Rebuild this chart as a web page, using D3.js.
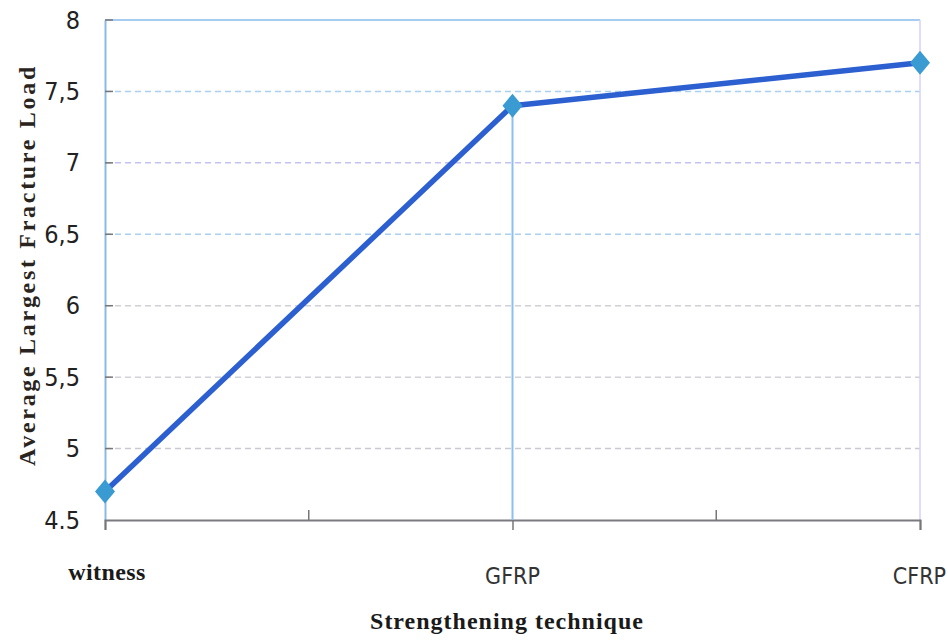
<!DOCTYPE html>
<html>
<head>
<meta charset="utf-8">
<script src="https://cdn.jsdelivr.net/npm/d3@7"></script>
<style>
  html, body { margin: 0; padding: 0; background: #fff; }
  svg { display: block; }
</style>
</head>
<body>
<svg id="chart" width="948" height="641"></svg>
<script>
// Strengthening techniques and their average largest fracture load
const categories = ["witness", "GFRP", "CFRP"];
const loads = [4.7, 7.4, 7.7];
const yTicks = [4.5, 5, 5.5, 6, 6.5, 7, 7.5, 8];
const yTickLabels = ["4.5", "5", "5,5", "6", "6,5", "7", "7,5", "8"];
const gridColors = { 5: "#c9c9d4", 5.5: "#d2d2da", 6: "#d0d0d8", 6.5: "#a9d0f0", 7: "#c3c3f2", 7.5: "#a9d0f0", 8: "#a9cff0" };

const narrow = "'DejaVu Sans Condensed', 'Liberation Sans Narrow', 'Open Sans', sans-serif";
const serif = "'Liberation Serif', 'DejaVu Serif', serif";

const svg = d3.select("#chart");
const margin = { left: 105, right: 28, top: 20, bottom: 121 };
const W = 948, H = 641;
const x0 = margin.left, x1 = W - margin.right;
const y0 = H - margin.bottom, y1 = margin.top;

const x = d3.scalePoint().domain(categories).range([x0, x1]);
const y = d3.scaleLinear().domain([4.5, 8]).range([y0, y1]);

// dashed horizontal gridlines
svg.append("g").selectAll("line")
  .data(yTicks.filter(t => t > 4.5 && t < 8))
  .join("line")
  .attr("x1", x0).attr("x2", x1)
  .attr("y1", d => y(d)).attr("y2", d => y(d))
  .attr("stroke", d => gridColors[d])
  .attr("stroke-width", 1.5)
  .attr("stroke-dasharray", "6,4");

// frame: top and right borders
svg.append("line").attr("x1", x0).attr("x2", x1).attr("y1", y1).attr("y2", y1)
  .attr("stroke", "#a6ccf2").attr("stroke-width", 2);
svg.append("line").attr("x1", x1).attr("x2", x1).attr("y1", y1).attr("y2", y0)
  .attr("stroke", "#d4d2fa").attr("stroke-width", 1.5);

// y axis
const yAxis = d3.axisLeft(y).tickValues(yTicks)
  .tickFormat((d, i) => yTickLabels[i]).tickSize(0).tickPadding(25);
const gy = svg.append("g").attr("transform", `translate(${x0},0)`).call(yAxis);
gy.select(".domain").attr("stroke", "#8cb9e6").attr("stroke-width", 2);
gy.selectAll("text")
  .attr("font-family", narrow)
  .attr("font-size", 25).attr("fill", "#222");
// inner tick marks on the y axis
svg.append("g").selectAll("line").data(yTicks.filter(t => t > 4.5))
  .join("line")
  .attr("x1", x0).attr("x2", x0 + 8)
  .attr("y1", d => y(d)).attr("y2", d => y(d))
  .attr("stroke", "#777").attr("stroke-width", 1.5);

// x axis
const xAxis = d3.axisBottom(x).tickSize(10).tickFormat("");
const gx = svg.append("g").attr("transform", `translate(0,${y0})`).call(xAxis);
gx.select(".domain").attr("stroke", "#7a7a80").attr("stroke-width", 2);
gx.selectAll(".tick line").attr("stroke", "#777").attr("stroke-width", 1.5);
// minor upward ticks between categories
const mids = d3.pairs(categories).map(([a, b]) => (x(a) + x(b)) / 2);
svg.append("g").selectAll("line").data(mids).join("line")
  .attr("x1", d => d).attr("x2", d => d)
  .attr("y1", y0).attr("y2", y0 - 10)
  .attr("stroke", "#777").attr("stroke-width", 1.5);

// category labels
svg.append("g").selectAll("text").data(categories).join("text")
  .attr("x", d => d === "CFRP" ? W - 2 : x(d) + (d === "witness" ? 2 : 0))
  .attr("y", d => d === "witness" ? y0 + 60 : y0 + 64)
  .attr("text-anchor", d => d === "CFRP" ? "end" : "middle")
  .attr("font-family", d => d === "witness" ? serif : narrow)
  .attr("font-weight", d => d === "witness" ? "bold" : "normal")
  .attr("font-size", d => d === "witness" ? 24 : 23)
  .attr("letter-spacing", d => d === "witness" ? 0.4 : 0)
  .attr("fill", d => d === "witness" ? "#1a1a1a" : "#333")
  .text(d => d);

// drop line from the middle point to the axis
svg.append("line")
  .attr("x1", x("GFRP")).attr("x2", x("GFRP"))
  .attr("y1", y(loads[1])).attr("y2", y0)
  .attr("stroke", "#8cc0ee").attr("stroke-width", 2);

// data line
const line = d3.line().x((d, i) => x(categories[i])).y(d => y(d));
svg.append("path").datum(loads)
  .attr("d", line)
  .attr("fill", "none")
  .attr("stroke", "#2c5fcf")
  .attr("stroke-width", 5.5)
  .attr("stroke-linejoin", "round");

// diamond markers
svg.append("g").selectAll("path").data(loads).join("path")
  .attr("transform", (d, i) => `translate(${x(categories[i])},${y(d)})`)
  .attr("d", "M0,-12L10,0L0,12L-10,0Z")
  .attr("fill", "#3a9ad2");

// axis titles
svg.append("text")
  .attr("x", 507).attr("y", 629)
  .attr("text-anchor", "middle")
  .attr("font-family", serif)
  .attr("font-weight", "bold").attr("font-size", 24)
  .attr("letter-spacing", 1)
  .attr("fill", "#1a1a1a")
  .text("Strengthening technique");

svg.append("text")
  .attr("transform", "translate(35,265) rotate(-90)")
  .attr("text-anchor", "middle")
  .attr("font-family", serif)
  .attr("font-weight", "bold").attr("font-size", 24)
  .attr("letter-spacing", 2.7)
  .attr("fill", "#2a2420")
  .text("Average Largest Fracture Load");
</script>
</body>
</html>
